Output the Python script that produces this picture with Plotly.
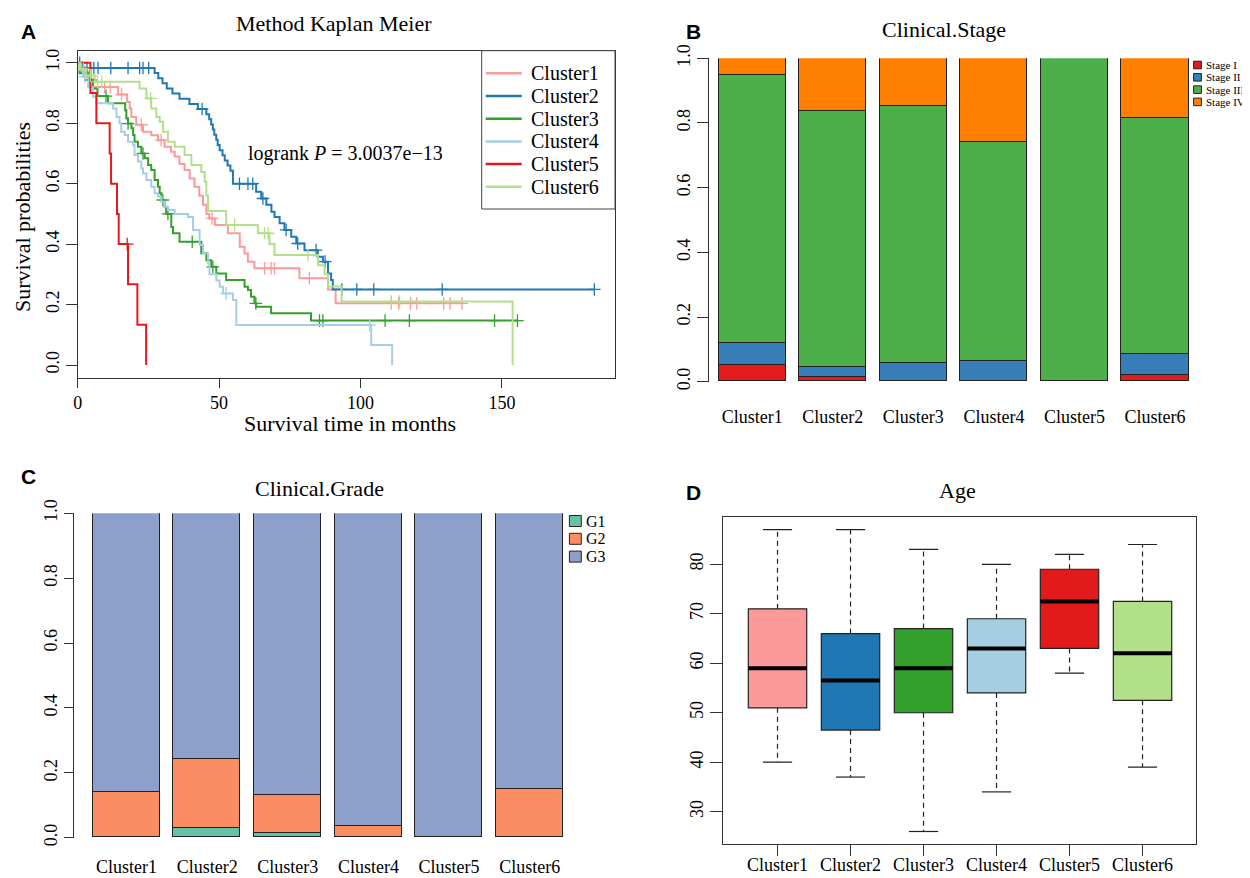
import numpy as np
import plotly.graph_objects as go

W, H = 1250, 878
OFF = 8  # page body margin of the html page
def xp(px): return (px - OFF) / W
def yp(py): return 1 - (py - OFF) / H

SERIF = "Liberation Serif, Times New Roman, serif"
SANS = "Liberation Sans, Arial, sans-serif"

clusters = ["Cluster1", "Cluster2", "Cluster3", "Cluster4", "Cluster5", "Cluster6"]
km_colors = ["#FB9A99", "#1F78B4", "#33A02C", "#A6CEE3", "#E31A1C", "#B2DF8A"]

# ---------------- Panel A: Kaplan-Meier step data (event time, survival after) ----------------
c1_t = [1.5, 3.5, 5.5, 14.3, 17.5, 18.4, 19.0, 20.7, 23.1, 26.0, 28.4, 30.7, 33.0, 34.3, 36.0, 37.8, 39.6,
        41.3, 43.0, 44.3, 45.5, 46.5, 48.5, 53.1, 57.3, 59.0, 60.2, 62.5, 78.4, 88.5, 91.2]
c1_s = [0.97, 0.946, 0.92, 0.895, 0.87, 0.849, 0.821, 0.795, 0.772, 0.76, 0.744, 0.722, 0.706, 0.69, 0.665,
        0.645, 0.617, 0.59, 0.56, 0.53, 0.50, 0.485, 0.463, 0.436, 0.391, 0.369, 0.342, 0.32, 0.287, 0.25, 0.204]
c1_c = [2.5, 9.5, 11.5, 15.5, 22.5, 29.5, 47.5, 66.1, 68.4, 69.6, 81.9, 110.9, 113.5, 117.7, 119.9,
        129.4, 131.7, 135.9]

c2_t = [1.9, 27.2, 28.5, 30.0, 31.5, 33.5, 36.0, 39.5, 42.5, 45.5, 46.5, 47.2, 47.8, 48.3, 49.0, 49.5,
        50.2, 51.2, 52.0, 53.0, 54.0, 54.9, 63.1, 64.9, 66.7, 68.5, 69.6, 71.4, 73.1, 75.5, 77.3, 80.2,
        84.9, 86.7, 88.5, 89.6, 90.2]
c2_s = [0.983, 0.966, 0.949, 0.932, 0.915, 0.898, 0.881, 0.864, 0.847, 0.830, 0.813, 0.796, 0.779, 0.762,
        0.745, 0.728, 0.711, 0.694, 0.677, 0.660, 0.643, 0.600, 0.573, 0.551, 0.530, 0.507, 0.490, 0.469,
        0.447, 0.424, 0.402, 0.380, 0.358, 0.342, 0.303, 0.281, 0.250]
c2_c = [0.7, 3.3, 5.7, 7.2, 11.7, 17.8, 21.9, 23.1, 25.1, 44.0, 57.2, 60.2, 61.9, 65.5, 73.7, 77.8,
        84.3, 87.5, 93.4, 98.7, 104.7, 128.9, 182.7]

c3_t = [0.7, 3.7, 5.4, 7.0, 10.7, 16.8, 17.2, 17.8, 19.0, 19.6, 20.1, 21.3, 22.5, 23.7, 24.9, 26.0, 27.2,
        28.4, 29.0, 29.6, 30.7, 31.3, 33.1, 33.7, 36.0, 43.7, 45.5, 47.2, 49.0, 52.5, 59.0, 60.2, 61.3,
        62.5, 63.1, 68.4, 82.5]
c3_s = [0.965, 0.943, 0.915, 0.89, 0.866, 0.843, 0.816, 0.799, 0.783, 0.761, 0.739, 0.722, 0.70, 0.684,
        0.662, 0.645, 0.612, 0.59, 0.568, 0.546, 0.524, 0.50, 0.457, 0.436, 0.408, 0.37, 0.347, 0.325,
        0.303, 0.281, 0.259, 0.248, 0.226, 0.204, 0.193, 0.171, 0.147]
c3_c = [4.5, 10.0, 17.8, 23.1, 30.1, 31.9, 40.5, 47.8, 63.0, 85.5, 86.7, 108.7, 117.3, 147.4, 155.5]

c4_t = [0.8, 1.9, 3.7, 5.4, 6.6, 12.5, 13.7, 14.8, 15.4, 16.6, 17.8, 19.6, 20.1, 21.3, 22.5, 23.1, 24.3,
        26.0, 27.2, 28.4, 29.6, 30.7, 31.9, 34.3, 39.0, 40.8, 43.1, 44.3, 46.1, 46.6, 49.0, 50.2, 51.4,
        54.9, 56.1, 103.8, 111.2]
c4_s = [0.977, 0.954, 0.92, 0.888, 0.866, 0.849, 0.821, 0.80, 0.772, 0.761, 0.739, 0.728, 0.695, 0.673,
        0.65, 0.634, 0.612, 0.59, 0.568, 0.557, 0.54, 0.524, 0.513, 0.50, 0.49, 0.447, 0.397, 0.369,
        0.336, 0.30, 0.28, 0.259, 0.237, 0.215, 0.132, 0.066, 0.0]
c4_c = [2.5, 52.5, 103.2]

c5_t = [4.5, 6.6, 11.3, 11.8, 13.9, 14.5, 17.8, 21.1, 24.2]
c5_s = [0.9, 0.8, 0.7, 0.6, 0.5, 0.4, 0.267, 0.133, 0.0]
c5_c = [17.5]

c6_t = [1.0, 3.0, 6.0, 21.9, 24.3, 26.0, 27.8, 29.0, 30.2, 31.9, 34.3, 37.8, 40.2, 43.7, 44.9, 45.5,
        46.1, 52.5, 63.7, 67.8, 69.6, 85.0, 87.3, 88.5, 93.3, 153.8]
c6_s = [0.98, 0.958, 0.937, 0.915, 0.882, 0.849, 0.821, 0.805, 0.772, 0.739, 0.722, 0.695, 0.662, 0.639,
        0.606, 0.56, 0.51, 0.463, 0.436, 0.40, 0.364, 0.33, 0.30, 0.26, 0.21, 0.0]
c6_c = [2.0, 4.5, 7.0, 8.5, 25.8, 55.5, 66.1, 67.3, 81.4, 110.9, 113.8]

km_times = [c1_t, c2_t, c3_t, c4_t, c5_t, c6_t]
km_surv = [c1_s, c2_s, c3_s, c4_s, c5_s, c6_s]
km_cens = [c1_c, c2_c, c3_c, c4_c, c5_c, c6_c]
logrank_text = "logrank <i>P</i> = 3.0037e\u221213"

# ---------------- Panel B: Clinical stage proportions ----------------
stage_names = ["Stage I", "Stage II", "Stage III", "Stage IV"]
stage_colors = ["#E41A1C", "#377EB8", "#4DAF4A", "#FF7F00"]
stage_I = [0.052, 0.013, 0.0, 0.0, 0.0, 0.020]
stage_II = [0.067, 0.031, 0.058, 0.064, 0.0, 0.064]
stage_III = [0.829, 0.791, 0.795, 0.676, 1.0, 0.729]
stage_IV = [0.052, 0.165, 0.147, 0.260, 0.0, 0.187]

# ---------------- Panel C: Clinical grade proportions ----------------
grade_names = ["G1", "G2", "G3"]
grade_colors = ["#66C2A5", "#FC8D62", "#8DA0CB"]
grade_G1 = [0.0, 0.030, 0.015, 0.0, 0.0, 0.0]
grade_G2 = [0.139, 0.212, 0.115, 0.034, 0.0, 0.149]
grade_G3 = [0.861, 0.758, 0.870, 0.966, 1.0, 0.851]

# ---------------- Panel D: Age box plots ----------------
age_lower = [40, 37, 26, 34, 58, 39]
age_q1 = [51, 46.5, 50, 54, 63, 52.5]
age_median = [59, 56.5, 59, 63, 72.5, 62]
age_q3 = [71, 66, 67, 69, 79, 72.5]
age_upper = [87, 87, 83, 80, 82, 84]
box_colors = ["#FB9A99", "#1F78B4", "#33A02C", "#A6CEE3", "#E31A1C", "#B2DF8A"]

fig = go.Figure()

# ---- Panel A traces ----
def surv_at(times, survs, t):
    idx = np.searchsorted(np.array(times), t, side="right") - 1
    return 1.0 if idx < 0 else survs[idx]

for name, col, t, s, c in zip(clusters, km_colors, km_times, km_surv, km_cens):
    xs = [0.0] + list(t)
    ys = [1.0] + list(s)
    end = max([t[-1]] + list(c))
    if end > t[-1]:
        xs.append(end)
        ys.append(s[-1])
    fig.add_trace(go.Scatter(x=xs, y=ys, mode="lines", name=name,
                             line=dict(color=col, width=2, shape="hv"),
                             xaxis="x", yaxis="y", showlegend=False, hoverinfo="skip"))
    cy = [surv_at(t, s, ct) for ct in c]
    fig.add_trace(go.Scatter(x=c, y=cy, mode="markers", showlegend=False, hoverinfo="skip",
                             marker=dict(symbol="cross-thin", size=9, color=col,
                                         line=dict(color=col, width=1.3)),
                             xaxis="x", yaxis="y"))

# ---- Panel B traces ----
bar_pos = [0.7 + 1.2 * i for i in range(len(clusters))]
for nm, colr, vals in zip(stage_names, stage_colors, [stage_I, stage_II, stage_III, stage_IV]):
    fig.add_trace(go.Bar(x=bar_pos, y=vals, width=1.0, name=nm, marker=dict(color=colr, line=dict(color="#222", width=1)),
                         xaxis="x2", yaxis="y2", showlegend=False, hoverinfo="skip"))

# ---- Panel C traces ----
for nm, colr, vals in zip(grade_names, grade_colors, [grade_G1, grade_G2, grade_G3]):
    fig.add_trace(go.Bar(x=bar_pos, y=vals, width=1.0, name=nm, marker=dict(color=colr, line=dict(color="#222", width=1)),
                         xaxis="x3", yaxis="y3", showlegend=False, hoverinfo="skip"))

# ---- Panel D traces ----
box_pos = list(range(1, len(clusters) + 1))
for i, (nm, colr) in enumerate(zip(clusters, box_colors)):
    fig.add_trace(go.Box(x=[box_pos[i]], q1=[age_q1[i]], median=[age_median[i]], q3=[age_q3[i]],
                         lowerfence=[age_q1[i]], upperfence=[age_q3[i]], width=0.8, whiskerwidth=0,
                         fillcolor=colr, line=dict(color="#222", width=1.2), name=nm,
                         xaxis="x4", yaxis="y4", showlegend=False, hoverinfo="skip", boxpoints=False))
wx, wy = [], []
for i in range(len(clusters)):
    wx += [box_pos[i], box_pos[i], None, box_pos[i], box_pos[i], None]
    wy += [age_q3[i], age_upper[i], None, age_q1[i], age_lower[i], None]
fig.add_trace(go.Scatter(x=wx, y=wy, mode="lines", line=dict(color="#222", width=1.2, dash="5px,4px"),
                         xaxis="x4", yaxis="y4", showlegend=False, hoverinfo="skip"))
cx, cyy = [], []
for i in range(len(clusters)):
    for v in (age_upper[i], age_lower[i]):
        cx += [box_pos[i] - 0.2, box_pos[i] + 0.2, None]
        cyy += [v, v, None]
fig.add_trace(go.Scatter(x=cx, y=cyy, mode="lines", line=dict(color="#222", width=1.2),
                         xaxis="x4", yaxis="y4", showlegend=False, hoverinfo="skip"))
mx, my = [], []
for i in range(len(clusters)):
    mx += [box_pos[i] - 0.4, box_pos[i] + 0.4, None]
    my += [age_median[i], age_median[i], None]
fig.add_trace(go.Scatter(x=mx, y=my, mode="lines", line=dict(color="black", width=4),
                         xaxis="x4", yaxis="y4", showlegend=False, hoverinfo="skip"))

# ---------------- Layout ----------------
axcol = "#333"
tickfont = dict(family=SERIF, size=18, color="black")
common = dict(showgrid=False, zeroline=False, linecolor=axcol, tickcolor=axcol, tickfont=tickfont,
              automargin=False)
ylab = ["0.0", "0.2", "0.4", "0.6", "0.8", "1.0"]
yv = [0, 0.2, 0.4, 0.6, 0.8, 1.0]

layout = dict(
    width=W, height=H, margin=dict(l=0, r=0, t=0, b=0, autoexpand=False),
    paper_bgcolor="white", plot_bgcolor="white", barmode="stack", bargap=0,
    showlegend=False,
    xaxis=dict(domain=[xp(77.7), xp(615)], range=[0, 190], anchor="y", showline=True, mirror=True,
               ticks="outside", ticklen=9, tickvals=[0, 50, 100, 150], **common),
    yaxis=dict(domain=[yp(377.7), yp(50.7)], range=[-0.042, 1.04], anchor="x", showline=True, mirror=True,
               ticks="outside", ticklen=11, tickvals=yv, ticktext=ylab, tickangle=-90, **common),
    xaxis2=dict(domain=[xp(709), xp(1192)], range=[0.057, 7.25], anchor="y2", showline=False,
                ticks="outside", ticklen=19, tickcolor="rgba(0,0,0,0)", tickvals=bar_pos, ticktext=clusters,
                showgrid=False, zeroline=False, tickfont=tickfont, automargin=False),
    yaxis2=dict(domain=[yp(381.7), yp(58.3)], range=[0, 1], anchor="x2", showline=True,
                ticks="outside", ticklen=11, tickvals=yv, ticktext=ylab, tickangle=-90, **common),
    xaxis3=dict(domain=[xp(74.3), xp(568)], range=[-0.077, 7.27], anchor="y3", showline=False,
                ticks="outside", ticklen=13, tickcolor="rgba(0,0,0,0)", tickvals=bar_pos, ticktext=clusters,
                showgrid=False, zeroline=False, tickfont=tickfont, automargin=False),
    yaxis3=dict(domain=[yp(837.7), yp(513.3)], range=[0, 1], anchor="x3", showline=True,
                ticks="outside", ticklen=9, tickvals=yv, ticktext=ylab, tickangle=-90, **common),
    xaxis4=dict(domain=[xp(723.2), xp(1196.4)], range=[0.256, 6.738], anchor="y4", showline=True, mirror=True,
                ticks="outside", ticklen=11, ticklabelstandoff=-7, tickvals=box_pos, ticktext=clusters, **common),
    yaxis4=dict(domain=[yp(844), yp(517)], range=[23.47, 89.56], anchor="x4", showline=True, mirror=True,
                ticks="outside", ticklen=12, tickvals=[30, 40, 50, 60, 70, 80], tickangle=-90, **common),
)
fig.update_layout(**layout)

ann = []
shapes = []
def text(px, py, s, size, family=SERIF, anchor="center", angle=0, bold=False, color="black"):
    ann.append(dict(x=xp(px), y=yp(py), xref="paper", yref="paper", text=("<b>%s</b>" % s) if bold else s,
                    showarrow=False, xanchor=anchor, yanchor="middle", textangle=angle,
                    font=dict(family=family, size=size, color=color)))

text(28, 31, "A", 21, SANS, bold=True)
text(693, 31, "B", 21, SANS, bold=True)
text(28, 477, "C", 21, SANS, bold=True)
text(693, 493, "D", 21, SANS, bold=True)

text(334, 24, "Method Kaplan Meier", 22)
text(22, 217, "Survival probabilities", 22, angle=-90)
text(350, 423, "Survival time in months", 22)
text(944, 30, "Clinical.Stage", 22)
text(319, 488, "Clinical.Grade", 22)
text(957, 490, "Age", 22)

ann.append(dict(x=94.8, y=0.70, xref="x", yref="y", text=logrank_text, showarrow=False,
                xanchor="center", yanchor="middle", font=dict(family=SERIF, size=20, color="black")))

shapes.append(dict(type="rect", xref="paper", yref="paper", x0=xp(481.7), x1=xp(615), y0=yp(209), y1=yp(50.7),
                   line=dict(color="#444", width=1), fillcolor="white", layer="above"))
for i, (nm, col) in enumerate(zip(clusters, km_colors)):
    yy = 73.3 + 22.7 * i
    shapes.append(dict(type="line", xref="paper", yref="paper", x0=xp(485.7), x1=xp(521.7), y0=yp(yy), y1=yp(yy),
                       line=dict(color=col, width=2.5), layer="above"))
    text(529, yy, nm, 20, anchor="left")

for i, (nm, col) in enumerate(zip(stage_names, stage_colors)):
    yy = 65 + 12.3 * i
    shapes.append(dict(type="rect", xref="paper", yref="paper", x0=xp(1193.6), x1=xp(1201.4),
                       y0=yp(yy + 3.8), y1=yp(yy - 3.8), line=dict(color="#222", width=1), fillcolor=col))
    text(1203.5, yy, nm, 11, anchor="left")

for i, (nm, col) in enumerate(zip(grade_names, grade_colors)):
    yy = 521 + 17.8 * i
    shapes.append(dict(type="rect", xref="paper", yref="paper", x0=xp(569.4), x1=xp(581.3),
                       y0=yp(yy + 5.5), y1=yp(yy - 5.5), line=dict(color="#222", width=1), fillcolor=col))
    text(584, yy, nm, 16, anchor="left")

fig.update_layout(annotations=ann, shapes=shapes)
fig.write_html("out.html")
